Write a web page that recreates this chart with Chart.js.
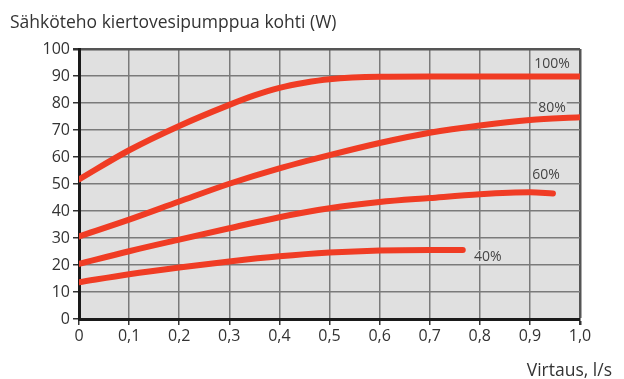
<!DOCTYPE html>
<html>
<head>
<meta charset="utf-8">
<script src="https://cdn.jsdelivr.net/npm/chart.js@4"></script>
<style>
  html, body { margin: 0; padding: 0; background: #fff; }
  #wrap { width: 624px; height: 379px; }
</style>
</head>
<body>
<div id="wrap"><canvas id="pumpChart" width="624" height="379"></canvas></div>
<script>
// flow (l/s) and power (W) per pump speed
const flow100 = [0, 0.1, 0.2, 0.3, 0.35, 0.4, 0.45, 0.5, 0.6, 0.7, 0.8, 0.9, 1.0];
const power100 = [51.7, 62.5, 71.5, 79.3, 82.8, 85.6, 87.5, 88.8, 89.7, 89.8, 89.8, 89.8, 89.8];
const flow80 = [0, 0.1, 0.2, 0.3, 0.4, 0.5, 0.6, 0.7, 0.8, 0.9, 1.0];
const power80 = [30.6, 36.8, 43.5, 50.1, 55.8, 60.7, 65.2, 69.0, 71.7, 73.7, 74.7];
const flow60 = [0, 0.1, 0.2, 0.3, 0.4, 0.5, 0.6, 0.7, 0.8, 0.9, 0.946];
const power60 = [20.4, 25.1, 29.4, 33.6, 37.7, 41, 43.3, 44.8, 46.2, 46.9, 46.5];
const flow40 = [0, 0.1, 0.2, 0.3, 0.4, 0.5, 0.6, 0.7, 0.766];
const power40 = [13.6, 16.6, 19.1, 21.3, 23.2, 24.6, 25.4, 25.6, 25.6];
const seriesNames = ['100%', '80%', '60%', '40%'];
const xTicks = [0, 0.1, 0.2, 0.3, 0.4, 0.5, 0.6, 0.7, 0.8, 0.9, 1.0];
const yTicks = [0, 10, 20, 30, 40, 50, 60, 70, 80, 90, 100];

const FONT = "'Open Sans', 'Noto Sans', sans-serif";
const RED = '#f03c24';

const toPoints = (xs, ys) => xs.map((x, i) => ({ x: x, y: ys[i] }));

// where each curve label sits (in axis units)
const labelAt = [
    { x: 0.944, y: 94.4 },
    { x: 0.944, y: 78.3 },
    { x: 0.932, y: 53.3 },
    { x: 0.816, y: 23 }
];

const frame = {
    id: 'frame',
    beforeDraw(chart) {
        const { ctx, chartArea: a } = chart;
        ctx.save();
        ctx.fillStyle = '#e0e0e0';
        ctx.fillRect(a.left, a.top, a.right - a.left, a.bottom - a.top);
        ctx.restore();
    },
    beforeDatasetsDraw(chart) {
        // curve labels sit on a grey patch over the grid, under the lines
        const ctx = chart.ctx;
        const xs = chart.scales.x, ys = chart.scales.y;
        ctx.save();
        ctx.font = '14px ' + FONT;
        ctx.textAlign = 'center';
        ctx.textBaseline = 'middle';
        seriesNames.forEach((name, i) => {
            const px = xs.getPixelForValue(labelAt[i].x);
            const py = ys.getPixelForValue(labelAt[i].y);
            const w = ctx.measureText(name).width;
            ctx.fillStyle = '#e0e0e0';
            ctx.fillRect(px - w / 2 - 1, py - 7, w + 2, 14);
            ctx.fillStyle = '#444';
            ctx.fillText(name, px, py);
        });
        ctx.restore();
    },
    afterDraw(chart) {
        const ctx = chart.ctx;
        ctx.save();
        ctx.fillStyle = '#333';
        ctx.textBaseline = 'alphabetic';
        ctx.font = '17.5px ' + FONT;
        ctx.textAlign = 'left';
        ctx.fillText('Sähköteho kiertovesipumppua kohti (W)', 10, 28);
        ctx.textAlign = 'right';
        ctx.fillText('Virtaus, l/s', 612, 376);
        ctx.restore();
    }
};

const datasets = [
    toPoints(flow100, power100),
    toPoints(flow80, power80),
    toPoints(flow60, power60),
    toPoints(flow40, power40)
].map((pts, i) => ({
    label: seriesNames[i],
    data: pts,
    borderColor: RED,
    borderWidth: 6,
    borderCapStyle: 'round',
    cubicInterpolationMode: 'monotone',
    pointRadius: 0,
    fill: false
}));

const edgeColor = (last) => ctx => ctx.tick && ctx.tick.value === last ? '#555' : '#7a7a7a';
const edgeWidth = (last) => ctx => ctx.tick && ctx.tick.value === last ? 2.5 : 1.5;

new Chart(document.getElementById('pumpChart').getContext('2d'), {
    type: 'line',
    data: { datasets: datasets },
    options: {
        responsive: false,
        animation: false,
        events: [],
        layout: { padding: { left: 0, top: 49, right: 44, bottom: 0 } },
        plugins: {
            legend: { display: false },
            tooltip: { enabled: false }
        },
        scales: {
            x: {
                type: 'linear',
                min: 0,
                max: 1,
                afterBuildTicks: s => { s.ticks = xTicks.map(v => ({ value: v })); },
                afterFit: s => { s.height = 60; },
                ticks: {
                    color: '#333',
                    font: { family: FONT, size: 16 },
                    padding: 2,
                    maxRotation: 0,
                    callback: v => v === 0 ? '0' : v.toFixed(1).replace('.', ',')
                },
                grid: {
                    color: edgeColor(1),
                    lineWidth: edgeWidth(1),
                    tickLength: 6,
                    tickColor: '#333'
                },
                border: { color: '#1a1a1a', width: 3 }
            },
            y: {
                min: 0,
                max: 100,
                afterBuildTicks: s => { s.ticks = yTicks.map(v => ({ value: v })); },
                afterFit: s => { s.width = 79; },
                ticks: {
                    color: '#333',
                    font: { family: FONT, size: 16 },
                    padding: 3
                },
                grid: {
                    color: edgeColor(100),
                    lineWidth: edgeWidth(100),
                    tickLength: 6,
                    tickColor: '#333'
                },
                border: { color: '#1a1a1a', width: 3 }
            }
        }
    },
    plugins: [frame]
});
</script>
</body>
</html>
